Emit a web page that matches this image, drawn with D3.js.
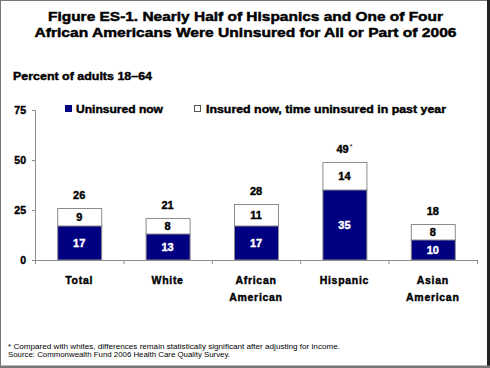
<!DOCTYPE html>
<html><head><meta charset="utf-8">
<script src="https://cdn.jsdelivr.net/npm/d3@7"></script>
<style>
html,body{margin:0;padding:0;background:#fff;}
svg{display:block;font-family:"Liberation Sans",Arial,sans-serif;}
</style></head>
<body>
<svg id="chart" width="490" height="368"></svg>
<script>
const categories = [["Total"], ["White"], ["African","American"], ["Hispanic"], ["Asian","American"]];
const uninsuredNow = [17, 13, 17, 35, 10];
const insuredNowPastYear = [9, 8, 11, 14, 8];
const totals = ["26", "21", "28", "49", "18"];
const totalMarks = ["", "", "", "*", ""];
const yTicks = [0, 25, 50, 75];
const seriesNames = ["Uninsured now", "Insured now, time uninsured in past year"];
const titleLines = ["Figure ES-1. Nearly Half of Hispanics and One of Four",
                    "African Americans Were Uninsured for All or Part of 2006"];
const yLabel = "Percent of adults 18\u201364";
const notes = ["* Compared with whites, differences remain statistically significant after adjusting for income.",
               "Source: Commonwealth Fund 2006 Health Care Quality Survey."];

const NAVY = "#000080", GRAY = "#8c8c8c";
const svg = d3.select("#chart");
function heavy(sel, color, w){ return sel.attr("stroke",color).attr("stroke-width",w).attr("paint-order","stroke"); }

// frame
svg.append("rect").attr("x",0.5).attr("y",0.5).attr("width",488).attr("height",366)
  .attr("fill","none").attr("stroke","#777").attr("stroke-width",1);
svg.append("rect").attr("x",487).attr("y",0).attr("width",3).attr("height",368).attr("fill","#222");
svg.append("rect").attr("x",0).attr("y",365.5).attr("width",490).attr("height",2.5).attr("fill","#777");

// title
titleLines.forEach((t,i)=>{
  heavy(svg.append("text").attr("x",245.5).attr("y",[21,37][i]).attr("text-anchor","middle")
    .attr("font-size",13).attr("font-weight","bold").attr("fill","#000")
    .attr("textLength",[395,422][i]).attr("lengthAdjust","spacingAndGlyphs").text(t), "#000", 0.45);
});
heavy(svg.append("text").attr("x",13).attr("y",80.3).attr("font-size",10.5).attr("font-weight","bold")
  .attr("textLength",139).attr("lengthAdjust","spacingAndGlyphs").text(yLabel), "#000", 0.4);

const x = d3.scaleBand().domain(d3.range(categories.length)).range([35,477]).paddingInner(0.5).paddingOuter(0.25);
const y = d3.scaleLinear().domain([0,75]).range([260,110]);

// axes
const yAxis = d3.axisLeft(y).tickValues(yTicks).tickSize(3).tickFormat(d3.format("d"));
const gy = svg.append("g").attr("transform","translate(35,0)").call(yAxis);
gy.select(".domain").attr("stroke",GRAY).attr("d","M-3,110.5H0.5V260");
gy.selectAll(".tick line").attr("stroke",GRAY);
heavy(gy.selectAll(".tick text").attr("x",-9).attr("font-size",10.5).attr("font-weight","bold")
  .attr("font-family","Liberation Sans, Arial").attr("fill","#000"), "#000", 0.4);

const xb = d3.scaleLinear().domain([0,categories.length]).range([35,477]);
const xAxis = d3.axisBottom(xb).ticks(categories.length).tickSize(4).tickFormat("");
const gx = svg.append("g").attr("transform","translate(0,260)").call(xAxis);
gx.select(".domain").attr("stroke",GRAY).attr("d","M35,0.5H477");
gx.selectAll(".tick line").attr("stroke",GRAY);

// bars
const bw = 44;
categories.forEach((c,i)=>{
  const cx = x(i) + x.bandwidth()/2;
  const u = uninsuredNow[i], s = insuredNowPastYear[i];
  svg.append("rect").attr("x",cx-bw/2+0.5).attr("y",y(u+s)+0.5).attr("width",bw).attr("height",y(u)-y(u+s))
    .attr("fill","#fff").attr("stroke",GRAY).attr("stroke-width",1);
  svg.append("rect").attr("x",cx-bw/2+0.5).attr("y",y(u)).attr("width",bw).attr("height",y(0)-y(u))
    .attr("fill",NAVY).attr("stroke",GRAY).attr("stroke-width",1);
  heavy(svg.append("text").attr("x",cx).attr("y",(y(u)+y(0))/2+4).attr("text-anchor","middle")
    .attr("font-size",11).attr("font-weight","bold").attr("fill","#fff").text(u), "#fff", 0.4);
  heavy(svg.append("text").attr("x",cx).attr("y",(y(u)+y(u+s))/2+4).attr("text-anchor","middle")
    .attr("font-size",11).attr("font-weight","bold").attr("fill","#000").text(s), "#000", 0.4);
  const tt = svg.append("text").attr("x",cx).attr("y",y(u+s)-9).attr("text-anchor","middle")
    .attr("font-size",11).attr("font-weight","bold").attr("fill","#000");
  heavy(tt.append("tspan").text(totals[i]), "#000", 0.4);
  if (totalMarks[i]) tt.append("tspan").attr("font-size",7).attr("font-weight","normal").attr("dx",1).attr("dy",-4).text(totalMarks[i]);
  c.forEach((line,j)=>{
    heavy(svg.append("text").attr("x",cx).attr("y",284+j*17).attr("text-anchor","middle")
      .attr("font-size",10.5).attr("font-weight","bold").attr("letter-spacing",0.7).text(line), "#000", 0.4);
  });
});

// legend
svg.append("rect").attr("x",65).attr("y",105).attr("width",7).attr("height",7).attr("fill",NAVY);
heavy(svg.append("text").attr("x",76).attr("y",112.5).attr("font-size",10.5).attr("font-weight","bold")
  .attr("textLength",87).attr("lengthAdjust","spacingAndGlyphs").text(seriesNames[0]), "#000", 0.4);
svg.append("rect").attr("x",194.5).attr("y",105.5).attr("width",6).attr("height",6).attr("fill","#fff").attr("stroke","#555");
heavy(svg.append("text").attr("x",206).attr("y",112.5).attr("font-size",10.5).attr("font-weight","bold")
  .attr("textLength",240).attr("lengthAdjust","spacingAndGlyphs").text(seriesNames[1]), "#000", 0.4);

// footnotes
notes.forEach((t,i)=>{
  svg.append("text").attr("x",8).attr("y",[349,356.5][i]).attr("font-size",7.6).attr("fill","#000")
    .attr("textLength",[332,222][i]).attr("lengthAdjust","spacingAndGlyphs").text(t);
});
</script>
</body></html>
